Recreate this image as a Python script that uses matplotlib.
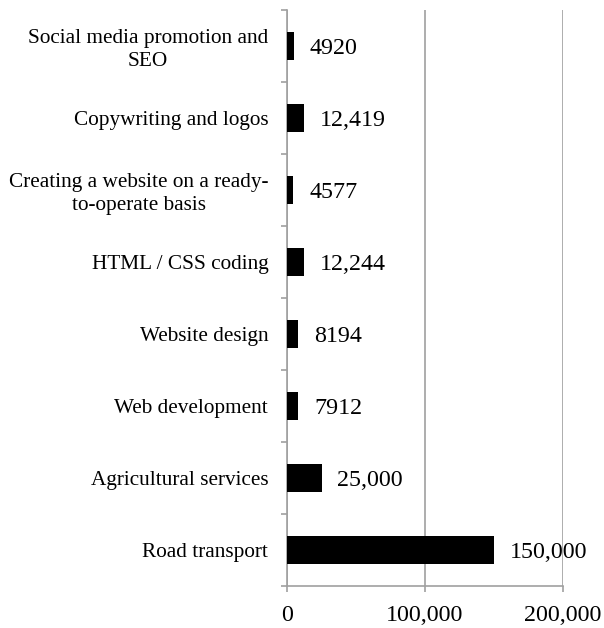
import matplotlib
matplotlib.use("Agg")
import matplotlib.pyplot as plt

categories = ["Social media promotion and\nSEO", "Copywriting and logos",
              "Creating a website on a ready-\nto-operate basis", "HTML / CSS coding",
              "Website design", "Web development", "Agricultural services", "Road transport"]
values = [4920, 12419, 4577, 12244, 8194, 7912, 25000, 150000]
value_labels = ["4920", "12,419", "4577", "12,244", "8194", "7912", "25,000", "150,000"]
xticks = [0, 100000, 200000]
xtick_labels = ["0", "100,000", "200,000"]

plt.rcParams['font.family'] = ['Liberation Serif', 'DejaVu Serif']

fig = plt.figure(figsize=(6.04, 6.28), dpi=100)
ax = fig.add_axes([287/604, 1-586/628, (563-287)/604, (586-10)/628])

n = len(categories)
ypos = list(range(n))
ax.barh(ypos, values, height=0.4, color='black', zorder=3)
ax.set_ylim(n - 0.5, -0.5)
ax.set_xlim(0, 200000)

for y, v, lab in zip(ypos, values, value_labels):
    ax.annotate(lab, (v, y), xytext=(16, -3), textcoords='offset pixels',
                va='center', ha='left', fontsize=17.3)

ax.set_xticks(xticks)
ax.set_xticklabels(xtick_labels, fontsize=17.3)
ax.set_yticks(ypos)
ax.set_yticklabels(categories, fontsize=15.3, multialignment='center', linespacing=1.28)
ax.tick_params(axis='y', length=0, pad=13.5)
ax.set_yticks([i - 0.5 for i in range(n + 1)], minor=True)
ax.tick_params(axis='y', which='minor', length=4.5, color='#a0a0a0', width=1.2)
ax.tick_params(axis='x', length=4.5, color='#a0a0a0', width=1.2, pad=9.5)

ax.grid(axis='x', color='#a0a0a0', linewidth=1.2, zorder=0)
for s in ['top', 'right']:
    ax.spines[s].set_visible(False)
for s in ['left', 'bottom']:
    ax.spines[s].set_color('#a0a0a0')
    ax.spines[s].set_linewidth(1.2)

fig.savefig('out.png', dpi=100)
